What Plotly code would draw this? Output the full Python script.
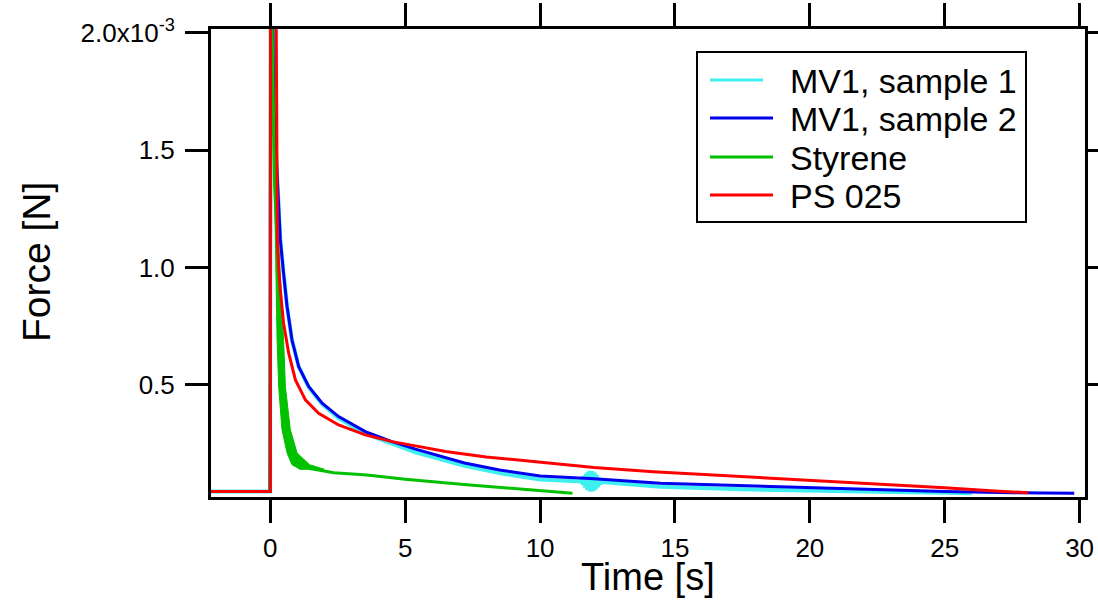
import plotly.graph_objects as go

# ---------------- data (force in units of 1e-3 N, time in s) ----------------
series_names = ["MV1, sample 1", "MV1, sample 2", "Styrene", "PS 025"]
series_colors = ["#40f0f0", "#0000ee", "#00c000", "#ff0000"]

mv1_s1_t = [-2.2, -0.01, 0.01, 0.09, 0.12, 0.2, 0.27, 0.37, 0.49, 0.62, 0.80, 1.05, 1.42,
            1.92, 2.53, 3.52, 4.51, 5.38, 7.2, 8.5, 10.0, 11.5,
            11.54, 11.58, 11.62, 11.66, 11.70, 11.74, 11.78, 11.82, 11.86, 11.90, 11.94,
            11.98, 12.02, 12.06, 12.10, 12.14, 12.18, 12.22, 12.26,
            14.46, 17.5, 20.0, 22.5, 25.0, 26.0]
mv1_s1_f = [0.045, 0.045, 2.4, 2.1, 1.7, 1.5, 1.34, 1.118, 0.976, 0.834, 0.692, 0.578, 0.49,
            0.418, 0.358, 0.292, 0.25, 0.212, 0.155, 0.124, 0.097, 0.088,
            0.098, 0.075, 0.112, 0.062, 0.122, 0.052, 0.13, 0.047, 0.134, 0.045, 0.132,
            0.047, 0.126, 0.054, 0.116, 0.064, 0.104, 0.076, 0.086,
            0.066, 0.055, 0.048, 0.044, 0.040, 0.038]

mv1_s2_t = [-2.2, -0.01, 0.01, 0.09, 0.12, 0.2, 0.27, 0.37, 0.49, 0.62, 0.80, 1.05, 1.42,
            1.92, 2.53, 3.52, 4.51, 5.38, 7.2, 8.5, 10.0, 12.0, 14.46, 17.5, 20.0, 22.5,
            25.0, 27.5, 29.8]
mv1_s2_f = [0.045, 0.045, 2.4, 2.1, 1.7, 1.5, 1.34, 1.118, 0.976, 0.834, 0.692, 0.578, 0.493,
            0.422, 0.365, 0.301, 0.258, 0.226, 0.167, 0.137, 0.112, 0.100, 0.081, 0.07,
            0.061, 0.052, 0.045, 0.040, 0.038]

styrene_t = [-2.2, -0.01, 0.03, 0.08, 0.12, 0.16, 0.25, 0.37, 0.44, 0.58, 0.83, 1.1, 1.5,
             1.73, 2.35, 3.58, 5.0, 7.29, 10.0, 11.2]
styrene_f = [0.045, 0.045, 2.3, 1.9, 1.6, 1.34, 1.118, 0.692, 0.49, 0.31, 0.21, 0.16, 0.142,
             0.138, 0.125, 0.116, 0.098, 0.074, 0.049, 0.038]
# noisy envelope of the Styrene trace right after loading
styrene_band_f = [1.5, 1.118, 0.692, 0.49, 0.31, 0.21, 0.16, 0.14]
styrene_band_t_left = [0.13, 0.19, 0.25, 0.31, 0.43, 0.62, 0.8, 1.1]
styrene_band_t_right = [0.17, 0.3, 0.49, 0.56, 0.74, 0.99, 1.45, 2.0]

ps025_t = [-2.2, 0.0, 0.01, 0.2, 0.22, 0.235, 0.245, 0.26, 0.31, 0.37, 0.49, 0.68, 0.93,
           1.30, 1.79, 2.53, 3.52, 4.51, 5.38, 6.5, 8.0, 10.0, 12.0, 14.2, 15.0, 17.5,
           20.0, 22.5, 25.0, 27.0, 28.1]
ps025_f = [0.045, 0.045, 2.6, 2.3, 2.0, 1.63, 1.34, 1.118, 1.0, 0.905, 0.763, 0.635, 0.521,
           0.436, 0.379, 0.329, 0.287, 0.258, 0.240, 0.216, 0.193, 0.169, 0.148, 0.13,
           0.125, 0.11, 0.095, 0.078, 0.061, 0.047, 0.040]

x_tickvals = [0, 5, 10, 15, 20, 25, 30]
x_ticktext = ["0", "5", "10", "15", "20", "25", "30"]
y_tickvals = [0.5, 1.0, 1.5, 2.0]
y_ticktext = ["0.5", "1.0", "1.5", "2.0x10<sup>-3</sup>"]

# ---------------- layout geometry (pixels) ----------------
W, H = 1098, 603
PL, PR, PT, PB = 211, 1085, 29, 497
FONT = "Liberation Sans, Arial, Helvetica, sans-serif"


def px(x):
    return (x - PL) / (PR - PL)


def py(y):
    return (PB - y) / (PB - PT)


fig = go.Figure()

fig.add_trace(go.Scatter(x=mv1_s1_t, y=mv1_s1_f, mode="lines", name=series_names[0],
                         line=dict(color=series_colors[0], width=4), showlegend=False))
fig.add_trace(go.Scatter(x=mv1_s2_t, y=mv1_s2_f, mode="lines", name=series_names[1],
                         line=dict(color=series_colors[1], width=3), showlegend=False))
band_x = styrene_band_t_left + styrene_band_t_right[::-1]
band_y = styrene_band_f + styrene_band_f[::-1]
fig.add_trace(go.Scatter(x=band_x, y=band_y, mode="lines", fill="toself",
                         fillcolor=series_colors[2], line=dict(color=series_colors[2], width=1),
                         showlegend=False, hoverinfo="skip"))
fig.add_trace(go.Scatter(x=styrene_t, y=styrene_f, mode="lines", name=series_names[2],
                         line=dict(color=series_colors[2], width=3), showlegend=False))
fig.add_trace(go.Scatter(x=ps025_t, y=ps025_f, mode="lines", name=series_names[3],
                         line=dict(color=series_colors[3], width=3), showlegend=False))

axis_common = dict(
    showline=True, linewidth=3, linecolor="black", mirror="allticks",
    ticks="outside", ticklen=23, tickwidth=3, tickcolor="black",
    showgrid=False, zeroline=False, automargin=False,
    tickfont=dict(family=FONT, size=26, color="black"),
)

fig.update_layout(
    template="none",
    width=W, height=H, autosize=False,
    margin=dict(l=PL, r=W - PR, t=PT, b=H - PB, pad=0),
    paper_bgcolor="white", plot_bgcolor="white",
    xaxis=dict(range=[-2.2, 30.2], tickmode="array", tickvals=x_tickvals,
               ticktext=x_ticktext, ticklabelstandoff=3, **axis_common),
    yaxis=dict(range=[0.022, 2.017], tickmode="array", tickvals=y_tickvals,
               ticktext=y_ticktext, ticklabelstandoff=5, **axis_common),
    showlegend=False,
)

# axis titles
fig.add_annotation(text="Time [s]", x=px(648), y=py(577), xref="paper", yref="paper",
                   showarrow=False, xanchor="center", yanchor="middle",
                   font=dict(family=FONT, size=38, color="black"))
fig.add_annotation(text="Force [N]", x=px(36), y=py(262), xref="paper", yref="paper",
                   showarrow=False, xanchor="center", yanchor="middle", textangle=-90,
                   font=dict(family=FONT, size=39, color="black"))

# legend box
fig.add_shape(type="rect", xref="paper", yref="paper", x0=px(697), x1=px(1026),
              y0=py(222), y1=py(52), line=dict(color="black", width=2),
              fillcolor="white", layer="above")
legend_rows = [80, 118, 157, 195]
legend_line_ends = [763, 773, 773, 773]
for name, color, yrow, xend in zip(series_names, series_colors, legend_rows, legend_line_ends):
    fig.add_shape(type="line", xref="paper", yref="paper", x0=px(710), x1=px(xend),
                  y0=py(yrow), y1=py(yrow), line=dict(color=color, width=3), layer="above")
    fig.add_annotation(text=name, x=px(788), y=py(yrow + 1), xref="paper", yref="paper",
                       showarrow=False, xanchor="left", yanchor="middle",
                       font=dict(family=FONT, size=34, color="black"))

fig.write_html("out.html")
